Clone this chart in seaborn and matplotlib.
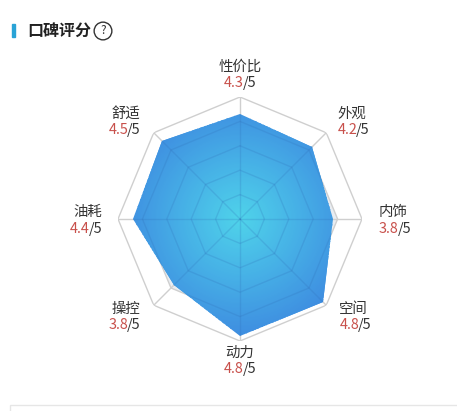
import numpy as np
import matplotlib
matplotlib.use("Agg")
import matplotlib.pyplot as plt
import seaborn as sns
from matplotlib.offsetbox import TextArea, HPacker, VPacker, AnnotationBbox
from matplotlib.patches import Rectangle

# word-of-mouth scores, clockwise from the top
categories = ["性价比", "外观", "内饰", "空间", "动力", "操控", "油耗", "舒适"]
scores = [4.3, 4.2, 3.8, 4.8, 4.8, 3.8, 4.4, 4.5]
max_score = 5
rings = [1, 2, 3, 4, 5]

sns.set_theme(style="white")
plt.rcParams["font.family"] = ["Noto Sans CJK SC", "DejaVu Sans"]

W, H = 457, 411
fig = plt.figure(figsize=(W / 100, H / 100), dpi=100)
fig.patch.set_facecolor("white")

# radar area (pixel layout of the reference)
cx, cy, R = 240, 219, 122
ax = fig.add_axes([(cx - R) / W, (H - cy - R) / H, 2 * R / W, 2 * R / H],
                  projection="polar")
ax.set_theta_zero_location("N")
ax.set_theta_direction(-1)
ax.set_ylim(0, max_score)
ax.axis("off")

n = len(categories)
theta = np.arange(n) * 2 * np.pi / n
tc = np.r_[theta, theta[0]]

grid_col = "#cfcfcf"

# alternating split areas
for i in range(1, len(rings)):
    if i % 2 == 1:
        r_in, r_out = rings[i - 1], rings[i]
        ax.fill(np.r_[tc, tc[::-1]],
                np.r_[[r_out] * (n + 1), [r_in] * (n + 1)],
                color="#e9edf2", lw=0, zorder=0)

# octagon rings and spokes
for r in rings:
    sns.lineplot(x=tc, y=[r] * (n + 1), ax=ax, color=grid_col, lw=1,
                 sort=False, estimator=None, zorder=1)
for t in theta:
    ax.plot([t, t], [0, max_score], color=grid_col, lw=1, zorder=1)

# data area with radial gradient
poly = ax.fill(tc, np.r_[scores, scores[0]], facecolor="none",
               edgecolor="none", zorder=3)[0]
cmap = sns.blend_palette(["#4fd3ea", "#46b0e6", "#3e8de0"], as_cmap=True)
tg = np.linspace(0, 2 * np.pi, 361)
rg = np.linspace(0, max_score, 101)
T, Rg = np.meshgrid(tg, rg)
C = (0.5 * (rg[:-1] + rg[1:]))[:, None] * np.ones((1, len(tg) - 1))
mesh = ax.pcolormesh(T, Rg, C, cmap=cmap, vmin=0, vmax=4.8,
                     shading="flat", zorder=2,
                     antialiased=False, edgecolors="none")
mesh.set_clip_path(poly)

# grid showing through the area
for r in rings:
    ln = ax.plot(tc, [r] * (n + 1), color="#2f6fb8", lw=1, alpha=0.22,
                 zorder=4)[0]
    ln.set_clip_path(poly)
for t in theta:
    ln = ax.plot([t, t], [0, max_score], color="#2f6fb8", lw=1, alpha=0.22,
                 zorder=4)[0]
    ln.set_clip_path(poly)

# labels
fs = 10.4
offsets = [(0, 7), (11, 11), (17, -1.5), (13, -12),
           (0, -5), (-13, -12), (-16, -1.5), (-13, 11)]
for t, name, v, (dx, dy) in zip(theta, categories, scores, offsets):
    s = np.sin(t)
    if s > 0.1:
        align, bx = "left", 0
    elif s < -0.1:
        align, bx = "right", 1
    else:
        align, bx = "center", 0.5
    by = 0.5
    if abs(s) < 0.1:
        by = 0 if np.cos(t) > 0 else 1
    name_area = TextArea(name, textprops=dict(color="#333333", fontsize=fs))
    val_row = HPacker(children=[
        TextArea(f"{v}", textprops=dict(color="#c8504b", fontsize=fs)),
        TextArea(f"/{max_score}", textprops=dict(color="#333333", fontsize=fs)),
    ], sep=-1, pad=0, align="baseline")
    block = VPacker(children=[name_area, val_row], align=align, pad=0, sep=1.5)
    ab = AnnotationBbox(block, (t, max_score), xybox=(dx, dy),
                        xycoords="data", boxcoords="offset pixels",
                        box_alignment=(bx, by), frameon=False, pad=0)
    ax.add_artist(ab)

# header
fig.patches.append(Rectangle((12 / W, 1 - 37 / H), 3 / W, 13 / H,
                             transform=fig.transFigure, color="#29a3d6"))
fig.text(27 / W, 1 - 31 / H, "口碑评分", fontsize=11.5, weight="bold",
         color="#222222", va="center", ha="left")
fig.text(103 / W, 1 - 31 / H, "?", fontsize=8.5, color="#333333",
         va="center", ha="center",
         bbox=dict(boxstyle="circle,pad=0.2", fc="white", ec="#333333", lw=1))

# next panel border at the bottom
fig.patches.append(Rectangle((10 / W, -5 / H), 1, 11 / H,
                             transform=fig.transFigure, fc="white",
                             ec="#e6e6e6", lw=1))

fig.savefig("out.png", dpi=100)
